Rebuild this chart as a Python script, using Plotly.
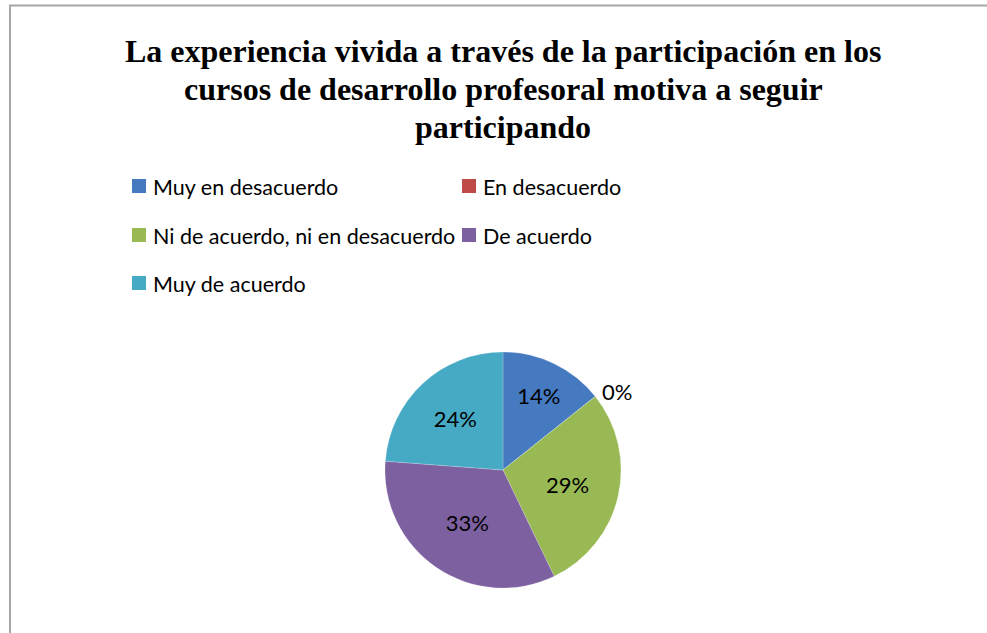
import plotly.graph_objects as go

W, H = 987, 633

title_lines = [
    "La experiencia vivida a través de la participación en los",
    "cursos de desarrollo profesoral motiva a seguir",
    "participando",
]
categories = [
    "Muy en desacuerdo",
    "En desacuerdo",
    "Ni de acuerdo, ni en desacuerdo",
    "De acuerdo",
    "Muy de acuerdo",
]
counts = [3, 0, 6, 7, 5]
colors = ["#4579C0", "#BE4B48", "#98B954", "#7D60A0", "#46AAC5"]


def px(x):
    return x / W


def py(y):
    return 1 - y / H


cx, cy, r = 503, 470, 118

fig = go.Figure()
fig.add_trace(go.Pie(
    labels=categories,
    values=counts,
    sort=False,
    direction="clockwise",
    rotation=0,
    marker=dict(colors=colors, line=dict(color="rgba(255,255,255,0.4)", width=0.5)),
    texttemplate="%{percent:.0%}",
    textposition=["inside", "outside", "inside", "inside", "inside"],
    insidetextorientation="horizontal",
    textfont=dict(family="Lato", size=22, color="#000000"),
    showlegend=False,
    hoverinfo="label+percent",
    domain=dict(x=[px(cx - r), px(cx + r)], y=[py(cy + r), py(cy - r)]),
))

annotations = []
title_y = [51, 89, 127]
for line, y in zip(title_lines, title_y):
    annotations.append(dict(
        x=px(503), y=py(y), xref="paper", yref="paper",
        text="<b>" + line + "</b>", showarrow=False,
        xanchor="center", yanchor="middle",
        font=dict(family="Liberation Serif", size=32, color="#000000"),
    ))

shapes = []
col_sq_x = [132, 462]
row_y = [186, 235, 283]
sq = 14
for i, (cat, col) in enumerate(zip(categories, colors)):
    c, rw = i % 2, i // 2
    x0 = col_sq_x[c]
    yc = row_y[rw]
    shapes.append(dict(
        type="rect", xref="paper", yref="paper",
        x0=px(x0), x1=px(x0 + sq), y0=py(yc + sq / 2), y1=py(yc - sq / 2),
        fillcolor=col, line=dict(width=0),
    ))
    annotations.append(dict(
        x=px(x0 + sq + 5), y=py(yc + 1), xref="paper", yref="paper",
        text=cat, showarrow=False, xanchor="left", yanchor="middle",
        font=dict(family="Lato", size=21.5, color="#000000"),
    ))

# chart border
shapes.append(dict(
    type="rect", xref="paper", yref="paper",
    x0=px(10), x1=px(W + 20), y0=py(H + 20), y1=py(5.5),
    line=dict(color="#A6A6A6", width=2), fillcolor="rgba(0,0,0,0)",
))

fig.update_layout(
    width=W, height=H,
    margin=dict(l=0, r=0, t=0, b=0),
    paper_bgcolor="white",
    plot_bgcolor="white",
    annotations=annotations,
    shapes=shapes,
)

fig.write_html(
    "out.html",
    config={"displayModeBar": False},
    post_script="document.body.style.margin='0';document.body.style.overflow='hidden';",
)
